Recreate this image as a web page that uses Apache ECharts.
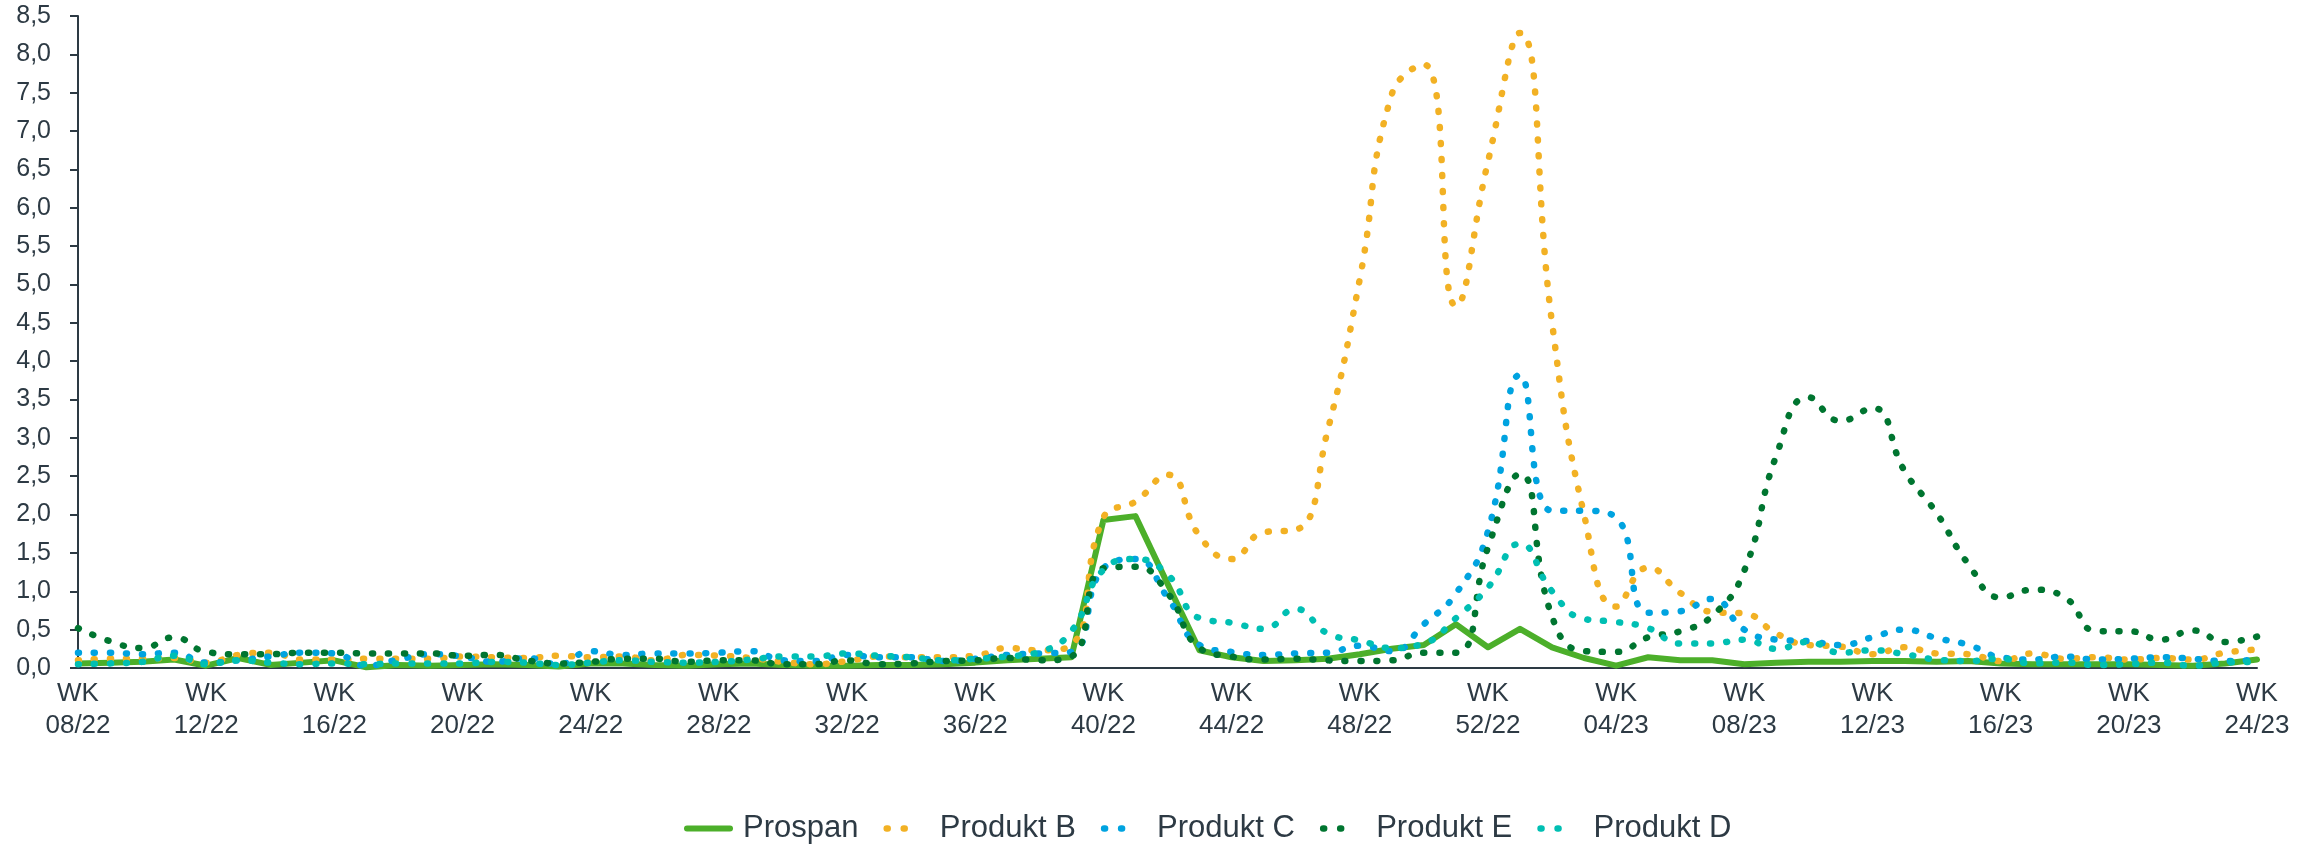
<!DOCTYPE html>
<html>
<head>
<meta charset="utf-8">
<script src="https://cdn.jsdelivr.net/npm/echarts@6/dist/echarts.min.js"></script>
<style>
  html, body { margin: 0; padding: 0; background: #fff; }
  #chart { width: 2321px; height: 848px; }
</style>
</head>
<body>
<div id="chart"></div>
<script>
// Kalenderwochen 08/22 - 24/23
var weeks = [
  '08/22','09/22','10/22','11/22','12/22','13/22','14/22','15/22','16/22','17/22',
  '18/22','19/22','20/22','21/22','22/22','23/22','24/22','25/22','26/22','27/22',
  '28/22','29/22','30/22','31/22','32/22','33/22','34/22','35/22','36/22','37/22',
  '38/22','39/22','40/22','41/22','42/22','43/22','44/22','45/22','46/22','47/22',
  '48/22','49/22','50/22','51/22','52/22','01/23','02/23','03/23','04/23','05/23',
  '06/23','07/23','08/23','09/23','10/23','11/23','12/23','13/23','14/23','15/23',
  '16/23','17/23','18/23','19/23','20/23','21/23','22/23','23/23','24/23'
];

var prospan = [
  0.06, 0.07, 0.08, 0.11, 0.03, 0.13, 0.04, 0.07, 0.10, 0.01,
  0.04, 0.03, 0.04, 0.05, 0.04, 0.02, 0.06, 0.06, 0.04, 0.03,
  0.05, 0.06, 0.04, 0.03, 0.03, 0.04, 0.04, 0.05, 0.07, 0.10,
  0.12, 0.14, 1.93, 1.98, 1.10, 0.23, 0.14, 0.09, 0.10, 0.12,
  0.18, 0.25, 0.30, 0.57, 0.27, 0.51, 0.27, 0.13, 0.03, 0.14,
  0.10, 0.10, 0.05, 0.07, 0.08, 0.08, 0.09, 0.09, 0.08, 0.09,
  0.06, 0.05, 0.05, 0.05, 0.05, 0.04, 0.03, 0.06, 0.11
];

var produktB = [
  0.10, 0.12, 0.12, 0.13, 0.07, 0.17, 0.20, 0.11, 0.11, 0.12,
  0.12, 0.12, 0.15, 0.14, 0.13, 0.16, 0.14, 0.15, 0.10, 0.17,
  0.16, 0.13, 0.08, 0.05, 0.09, 0.15, 0.14, 0.14, 0.16, 0.26,
  0.23, 0.30, 1.96, 2.17, 2.52, 1.72, 1.42, 1.77, 1.80, 3.10,
  5.07, 7.48, 7.87, 4.72, 6.60, 8.28, 4.50, 2.00, 0.80, 1.31,
  0.98, 0.73, 0.71, 0.45, 0.30, 0.28, 0.18, 0.27, 0.19, 0.18,
  0.09, 0.19, 0.12, 0.14, 0.11, 0.13, 0.11, 0.20, 0.24
];

var produktC = [
  0.20, 0.20, 0.18, 0.20, 0.07, 0.10, 0.15, 0.20, 0.19, 0.03,
  0.11, 0.18, 0.15, 0.08, 0.13, 0.05, 0.22, 0.17, 0.19, 0.19,
  0.20, 0.22, 0.10, 0.09, 0.17, 0.14, 0.14, 0.09, 0.12, 0.17,
  0.19, 0.21, 1.30, 1.42, 0.92, 0.30, 0.21, 0.17, 0.19, 0.20,
  0.29, 0.22, 0.57, 0.97, 1.78, 3.82, 2.05, 2.05, 1.96, 0.72,
  0.74, 0.90, 0.50, 0.37, 0.35, 0.30, 0.40, 0.50, 0.39, 0.30,
  0.14, 0.11, 0.15, 0.11, 0.12, 0.14, 0.12, 0.09, 0.11
];

var produktE = [
  0.52, 0.35, 0.26, 0.40, 0.21, 0.18, 0.18, 0.20, 0.20, 0.19,
  0.19, 0.19, 0.16, 0.17, 0.10, 0.06, 0.08, 0.12, 0.12, 0.08,
  0.10, 0.10, 0.05, 0.05, 0.10, 0.05, 0.06, 0.09, 0.10, 0.13,
  0.10, 0.15, 1.30, 1.32, 0.98, 0.26, 0.15, 0.11, 0.12, 0.10,
  0.09, 0.10, 0.20, 0.20, 1.57, 2.53, 0.67, 0.22, 0.21, 0.40,
  0.48, 0.68, 1.27, 2.77, 3.53, 3.22, 3.39, 2.57, 2.02, 1.35,
  0.92, 1.02, 0.92, 0.48, 0.48, 0.37, 0.49, 0.34, 0.41
];

var produktD = [
  0.05, 0.06, 0.08, 0.16, 0.05, 0.10, 0.07, 0.05, 0.06, 0.05,
  0.06, 0.06, 0.06, 0.08, 0.07, 0.04, 0.07, 0.10, 0.08, 0.07,
  0.08, 0.11, 0.15, 0.15, 0.19, 0.16, 0.14, 0.10, 0.12, 0.15,
  0.21, 0.48, 1.28, 1.42, 1.22, 0.65, 0.59, 0.51, 0.77, 0.45,
  0.36, 0.26, 0.32, 0.65, 1.05, 1.62, 1.00, 0.64, 0.60, 0.52,
  0.32, 0.32, 0.37, 0.25, 0.34, 0.20, 0.23, 0.18, 0.11, 0.09,
  0.12, 0.06, 0.07, 0.04, 0.05, 0.07, 0.03, 0.07, 0.08
];

var textColor = '#2d3a44';
var fontFamily = 'Liberation Sans, Arial, sans-serif';

function dotted (name, data, color) {
  return {
    name: name,
    type: 'line',
    data: data,
    smooth: 0.5,
    showSymbol: false,
    symbol: 'none',
    lineStyle: { color: color, width: 6.5, type: [1, 15], cap: 'round' },
    itemStyle: { color: color },
  };
}

// Legende: zwei Punkte statt durchgehender Linie
function dottedLegend (name) {
  return { name: name, lineStyle: { type: [1, 16, 1, 80], dashOffset: -3 } };
}

var chart = echarts.init(document.getElementById('chart'));

var option = {
  animation: false,
  backgroundColor: '#fff',
  grid: { left: 78, right: 64, top: 16, bottom: 180, containLabel: false },
  legend: {
    left: 679,
    top: 808,
    itemWidth: 43,
    itemHeight: 8,
    itemGap: 22,
    lineStyle: { width: 'inherit' },
    itemStyle: { opacity: 0 },
    textStyle: { color: textColor, fontSize: 31, fontFamily: fontFamily, padding: [0, 0, 0, 8] },
    data: [
      { name: 'Prospan' },
      dottedLegend('Produkt B'),
      dottedLegend('Produkt C'),
      dottedLegend('Produkt E'),
      dottedLegend('Produkt D'),
    ],
  },
  xAxis: {
    type: 'category',
    data: weeks,
    boundaryGap: false,
    axisLine: { lineStyle: { color: textColor, width: 2 } },
    axisTick: { show: false },
    axisLabel: {
      interval: 3,
      margin: 10,
      color: textColor,
      fontSize: 26,
      lineHeight: 32,
      fontFamily: fontFamily,
      formatter: function (v) { return 'WK\n' + v; },
    },
    splitLine: { show: false },
  },
  yAxis: {
    type: 'value',
    min: 0,
    max: 8.5,
    interval: 0.5,
    axisLine: { show: true, lineStyle: { color: textColor, width: 2 } },
    axisTick: { show: true, length: 8, lineStyle: { color: textColor, width: 2 } },
    axisLabel: {
      margin: 27,
      color: textColor,
      fontSize: 25,
      fontFamily: fontFamily,
      formatter: function (v) { return v.toFixed(1).replace('.', ','); },
    },
    splitLine: { show: false },
  },
  series: [
    {
      name: 'Prospan',
      type: 'line',
      data: prospan,
      showSymbol: false,
      symbol: 'none',
      lineStyle: { color: '#4caf2a', width: 6, cap: 'round', join: 'round' },
      itemStyle: { color: '#4caf2a' },
    },
    dotted('Produkt B', produktB, '#f2b124'),
    dotted('Produkt C', produktC, '#00a3e0'),
    dotted('Produkt E', produktE, '#007530'),
    dotted('Produkt D', produktD, '#00bfb3'),
  ],
};

chart.setOption(option);
</script>
</body>
</html>
